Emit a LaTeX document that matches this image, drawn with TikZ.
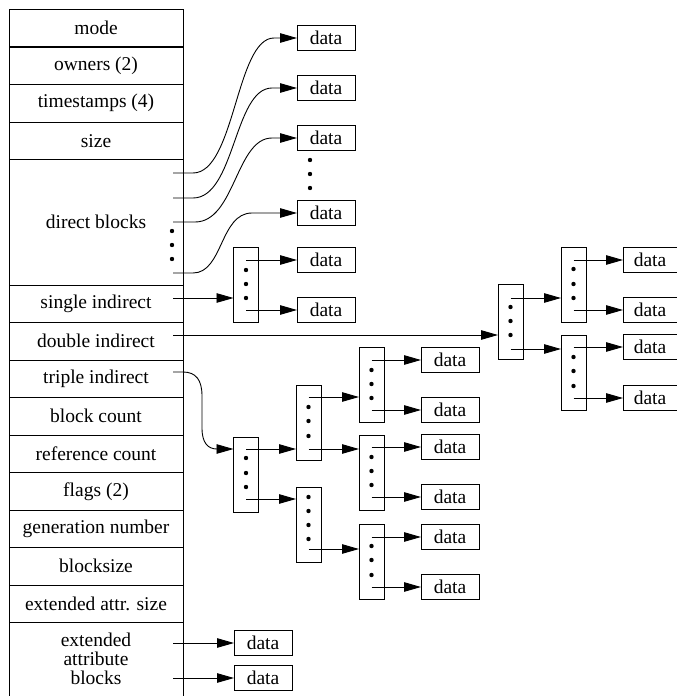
\documentclass[tikz,border=0pt]{standalone}
\usepackage{fontspec}
\setmainfont{Liberation Serif}
\usetikzlibrary{arrows.meta}
\begin{document}
\begin{tikzpicture}[x=1pt,y=-1pt,line width=0.9pt,
  font=\rmfamily\fontsize{19.5}{19}\selectfont,
  every node/.style={outer sep=0pt},
  row/.style={draw,rectangle,minimum width=174pt,minimum height=37.5pt,inner sep=0pt},
  ib/.style={draw,rectangle,minimum width=25pt,minimum height=75pt,inner sep=0pt},
  databox/.style={draw,rectangle,minimum width=58pt,minimum height=24.5pt,inner sep=0pt},
  rdatabox/.style={databox,minimum width=54pt},
  arr/.style={-{Triangle[length=17pt,width=9.5pt]}},
  dot/.style={fill=black}]
\useasboundingbox (0,0) rectangle (677,696);

% ---- inode column ----
\node[row] (mode)   at (96,28)     {mode};
\node[row] (owners) at (96,65.75)  {owners (2)};
\node[row] (tstamps) at (96,103.25) {timestamps (4)};
\node[row] (size)   at (96,140.75) {size};
\node[row,minimum height=125.5pt] (direct) at (96,222.25) {direct blocks};
\node[row] (single) at (96,303.75) {single indirect};
\node[row] (double) at (96,341.25) {double indirect};
\node[row] (triple) at (96,378.75) {triple indirect};
\node[row] (bcount) at (96,416.25) {block count};
\node[row] (rcount) at (96,453.75) {reference count};
\node[row] (flags)  at (96,491.25) {flags (2)};
\node[row] (gen)    at (96,528.75) {generation number};
\node[row] (bsize)  at (96,566.25) {blocksize};
\node[row] (easize) at (96,603.75) {extended attr. size};
\node[rectangle,minimum width=174pt,minimum height=73.5pt,inner sep=0pt,align=center] (eablocks) at (96,659.25) {extended\\attribute\\blocks};
\draw (eablocks.south west) -- (eablocks.north west) -- (eablocks.north east) -- (eablocks.south east);

% ---- direct blocks ----
\coordinate (dir1) at (173,173);
\coordinate (dir2) at (173,198);
\coordinate (dir3) at (173,222);
\coordinate (dir4) at (173,273);
\foreach \yy in {231,245,259} \fill[dot] (172,\yy) circle (2.2pt);

\node[databox] (dd1) at (326,38)  {data};
\node[databox] (dd2) at (326,88)  {data};
\node[databox] (dd3) at (326,138) {data};
\node[databox] (dd4) at (326,213) {data};
\foreach \yy in {160,174,188} \fill[dot] (310,\yy) circle (2.2pt);

\draw[arr] (dir1) -- (193,173) .. controls +(42,0) and +(-38,0) .. (274,38) -- (dd1);
\draw[arr] (dir2) -- (193,198) .. controls +(42,0) and +(-38,0) .. (272,88) -- (dd2);
\draw[arr] (dir3) -- (195,222) .. controls +(40,0) and +(-36,0) .. (272,138) -- (dd3);
\draw[arr] (dir4) -- (193,273) .. controls +(30,0) and +(-32,0) .. (252,213) -- (dd4);

% ---- single indirect ----
\coordinate (sin) at (173,298);
\node[ib] (si) at (246,284.5) {};
\foreach \yy in {270,284,298} \fill[dot] (246,\yy) circle (2.2pt);
\node[databox] (sd1) at (326,260) {data};
\node[databox] (sd2) at (326,310) {data};
\draw[arr] (sin) -- (si.west |- sin);
\draw[arr] (si.center |- sd1) -- (sd1);
\draw[arr] (si.center |- sd2) -- (sd2);

% ---- double indirect ----
\coordinate (din) at (173,335);
\node[ib] (d1) at (510.5,322) {};
\foreach \yy in {307,321,335} \fill[dot] (510.5,\yy) circle (2.2pt);
\node[ib] (d2a) at (573.5,284.5) {};
\foreach \yy in {269,284,298} \fill[dot] (573.5,\yy) circle (2.2pt);
\node[ib] (d2b) at (573.5,372.5) {};
\foreach \yy in {357,371,386} \fill[dot] (573.5,\yy) circle (2.2pt);
\node[rdatabox] (dr1) at (650,260) {data};
\node[rdatabox] (dr2) at (650,310) {data};
\node[rdatabox] (dr3) at (650,347) {data};
\node[rdatabox] (dr4) at (650,398) {data};
\draw[arr] (din) -- (d1.west |- din);
\draw[arr] (d1.center |- 0,298) -- (d2a.west |- 0,298);
\draw[arr] (d1.center |- 0,349) -- (d2b.west |- 0,349);
\draw[arr] (d2a.center |- dr1) -- (dr1);
\draw[arr] (d2a.center |- dr2) -- (dr2);
\draw[arr] (d2b.center |- dr3) -- (dr3);
\draw[arr] (d2b.center |- dr4) -- (dr4);

% ---- triple indirect ----
\coordinate (tin) at (173,372);
\node[ib] (t1) at (246,474.5) {};
\foreach \yy in {458,473,487} \fill[dot] (246,\yy) circle (2.2pt);
\node[ib] (t2a) at (308.5,422.5) {};
\foreach \yy in {407,421,436} \fill[dot] (308.5,\yy) circle (2.2pt);
\node[ib] (t2b) at (308.5,524.5) {};
\foreach \yy in {497,511,525,539} \fill[dot] (308.5,\yy) circle (2.2pt);
\node[ib] (t3a) at (371.5,384.5) {};
\foreach \yy in {370,384,398} \fill[dot] (371.5,\yy) circle (2.2pt);
\node[ib] (t3b) at (371.5,472.5) {};
\foreach \yy in {457,471,485} \fill[dot] (371.5,\yy) circle (2.2pt);
\node[ib] (t3c) at (371.5,561.5) {};
\foreach \yy in {546,560,575} \fill[dot] (371.5,\yy) circle (2.2pt);
\node[databox] (td1) at (450,360) {data};
\node[databox] (td2) at (450,410) {data};
\node[databox] (td3) at (450,447) {data};
\node[databox] (td4) at (450,497) {data};
\node[databox] (td5) at (450,537) {data};
\node[databox] (td6) at (450,587) {data};

\draw[arr] (tin) -- (183,372) .. controls (196,372) and (202,380) .. (202,396) -- (202,428)
   .. controls (202,443) and (208,449) .. (217,449) -- (t1.west |- 0,449);
\draw[arr] (t1.center |- 0,449) -- (t2a.west |- 0,449);
\draw[arr] (t1.center |- 0,499) -- (t2b.west |- 0,499);
\draw[arr] (t2a.center |- 0,397) -- (t3a.west |- 0,397);
\draw[arr] (t2a.center |- 0,449) -- (t3b.west |- 0,449);
\draw[arr] (t2b.center |- 0,549) -- (t3c.west |- 0,549);
\draw[arr] (t3a.center |- td1) -- (td1);
\draw[arr] (t3a.center |- td2) -- (td2);
\draw[arr] (t3b.center |- td3) -- (td3);
\draw[arr] (t3b.center |- td4) -- (td4);
\draw[arr] (t3c.center |- td5) -- (td5);
\draw[arr] (t3c.center |- td6) -- (td6);

% ---- extended attribute blocks ----
\coordinate (ea1) at (173,643);
\coordinate (ea2) at (173,678);
\node[databox] (ed1) at (263,643) {data};
\node[databox] (ed2) at (263,678) {data};
\draw[arr] (ea1) -- (ed1);
\draw[arr] (ea2) -- (ed2);
\end{tikzpicture}
\end{document}
